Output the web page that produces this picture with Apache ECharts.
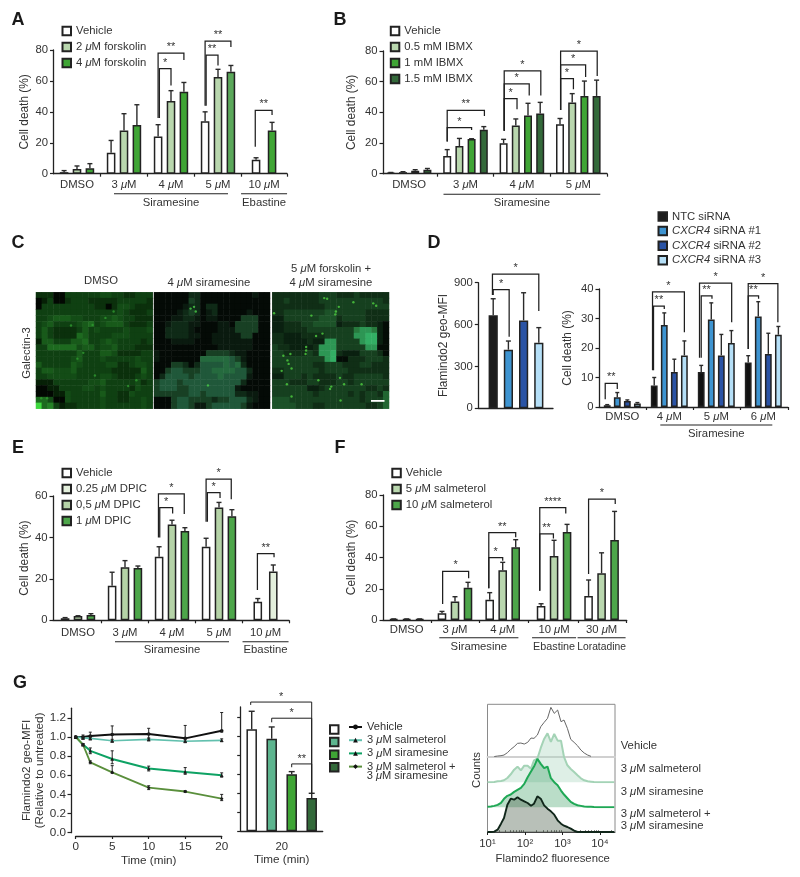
<!DOCTYPE html>
<html><head><meta charset="utf-8">
<style>html,body{margin:0;padding:0;background:#fff}#c{width:800px;height:877px}</style>
<script src="https://cdn.jsdelivr.net/npm/echarts@6/dist/echarts.min.js"></script>
</head><body><div id="c"></div>
<script>
// ---------- DATA ----------
const A_groups=['DMSO','3 μM','4 μM','5 μM','10 μM'];
const A_vehicle=[1,13.5,24,34,9], A_vehicleErr=[2,21.5,31.7,40,10.3];
const A_forsk2=[3,28,47,62.5,null], A_forsk2Err=[5,38.8,53.7,67.5,null];
const A_forsk4=[3.5,31.5,53,66,28], A_forsk4Err=[6.5,44.6,59,70,33.2];
const A_brackets=[[2,0.1,1,68,36,57,'*'],[2,0,2,78,36,73.5,'**'],[3,0.08,1,76.7,44,70,'**'],[3,0,2,85.8,44,82,'**'],[4,-0.1,2,41,17.5,38,'**']];

const B_groups=['DMSO','3 μM','4 μM','5 μM'];
const B_vehicle=[0.5,11.5,19.8,32.2], B_vehicleErr=[0.8,15.7,22.4,36];
const B_ibmx05=[1,18,31.5,46.5], B_ibmx05Err=[1.3,23,35.7,52.2];
const B_ibmx1=[2,22.6,38,50.7], B_ibmx1Err=[2.6,22.8,45.9,60.4];
const B_ibmx15=[2.5,28.7,39.3,50.7], B_ibmx15Err=[3.4,30.7,46.5,61];
const B_brackets=[[1,0,2,30,21,28.5,'*'],[1,0,3.05,41.3,21,37.6,'**'],[2,0.05,1.1,49,28,42,'*'],[2,0.05,2.1,58.5,28,51,'*'],[2,0.05,3.05,67,28,51,'*'],[3,0.05,1.1,62,41.5,55,'*'],[3,0.05,2.1,71,41.5,63,'*'],[3,0.05,3.05,80,41.5,63.7,'*']];

const DL_mfi=[666,420,630,470], DL_mfiErr=[785,482,828,578];
const DL_brackets=[[0,0,1.05,850,811,513,'*'],[0,-0.05,3,962,811,697,'*']];
const D_groups=['DMSO','4 μM','5 μM','6 μM'];
const D_ntc=[0.6,7.3,11.9,15.1], D_ntcErr=[0.8,10,14.1,17.4];
const D_si1=[3.3,27.8,29.7,30.7], D_si1Err=[4.9,31.9,35.3,35.7];
const D_si2=[2,11.9,17.5,18], D_si2Err=[2.4,16.2,24.6,25];
const D_si3=[1.2,17.5,21.7,24.5], D_si3Err=[1.5,22.4,25.9,27.3];
const D_brackets=[[0,-0.2,1,8,2.6,6.1,'**'],[1,-0.07,1,34.2,12.5,33.2,'**'],[1,-0.17,3,39,12.5,25.3,'*'],[2,0,1.07,37.7,16.7,36.7,'**'],[2,-0.17,3.03,42,16.7,28.7,'*'],[3,0,1.03,37.7,19.7,36.7,'**'],[3,0,2.95,41.8,19.7,28.7,'*']];

const E_groups=['DMSO','3 μM','4 μM','5 μM','10 μM'];
const E_vehicle=[1,16.7,30.7,35.5,9], E_vehicleErr=[1.3,23.2,35.5,39.6,10.5];
const E_dpic025=[null,null,null,null,23.6], E_dpic025Err=[null,null,null,null,26.7];
const E_dpic05=[2.1,25.6,46.2,54.4,null], E_dpic05Err=[2.2,28.8,48.3,56.9,null];
const E_dpic1=[2.6,25.3,43.1,50.2,null], E_dpic1Err=[3.2,26.2,44.7,53.4,null];
const E_brackets=[[2,0.05,1.05,54.4,40,51.6,'*'],[2,-0.05,1.95,61,40,51.3,'*'],[3,0.1,1.08,61.6,47.6,59,'*'],[3,0,1.95,68.2,47.6,58.4,'*'],[4,-0.05,2.1,32.2,14.6,30.4,'**']];

const F_groups=['DMSO','3 μM','4 μM','10 μM','30 μM'];
const F_vehicle=[0.5,4.3,13,9,15.4], F_vehicleErr=[0.7,5.5,17.5,10.4,25.6];
const F_salm5=[0.5,11.9,31.8,40.9,29.9], F_salm5Err=[0.7,14.9,36.9,51,43];
const F_salm10=[0.5,20.7,46.5,56.3,51.2], F_salm10Err=[0.7,24.1,51.4,61.2,69.5];
const F_brackets=[[1,0.05,2.05,31.1,10.2,26.7,'*'],[2,-0.07,1,39.9,20.3,38,'*'],[2,-0.07,2,56,20.3,52.9,'**'],[3,-0.1,0.95,55.2,18.8,52.2,'**'],[3,-0.1,1.9,71.9,18.8,68.2,'****'],[4,0,2.05,77.4,29.4,74.2,'*']];

const G_time=[0,1,2,5,10,15,20];
const G_vehicle=[1,1,1.01,1.026,1.03,0.985,1.065];
const G_vehicleHi=[1.01,1.02,1.05,1.115,1.09,1.12,1.255], G_vehicleLo=[0.99,0.98,0.97,0.95,0.98,0.95,1.05];
const G_salm=[1,0.99,0.985,0.96,0.975,0.955,0.965];
const G_salmHi=[1,1,0.995,0.975,0.99,0.97,0.98], G_salmLo=[1,0.98,0.975,0.945,0.96,0.94,0.95];
const G_sira=[1,0.92,0.855,0.77,0.67,0.635,0.6];
const G_siraHi=[1,0.93,0.885,0.855,0.695,0.68,0.625], G_siraLo=[1,0.91,0.825,0.72,0.645,0.61,0.58];
const G_combo=[1,0.92,0.735,0.63,0.47,0.43,0.355];
const G_comboHi=[1,0.93,0.75,0.7,0.49,0.44,0.4], G_comboLo=[1,0.91,0.72,0.62,0.45,0.42,0.335];
const GB_values=[1.074,0.975,0.6,0.35], GB_errs=[1.263,1.098,0.628,0.4];
const GB_brackets=[[0,-0.05,3,1.36,1.33,0.4,'*'],[0,1,3,1.19,1.147,0.4,'*'],[0,2,3,0.709,0.674,0.4,'**']];

const H_bins=[1.00,1.09,1.18,1.27,1.36,1.44,1.53,1.62,1.71,1.80,1.89,1.98,2.07,2.16,2.24,2.33,2.42,2.51,2.60,2.69,2.78,2.87,2.96,3.04,3.13,3.22,3.31,3.40,3.49,3.58,3.67,3.76,3.84,3.93,4.02,4.11,4.20,4.29,4.38];
const H_vehicle=[null,null,0.5,2,3,5,12,22,30,40,41,38,43,56,55,65,90,103,115,148,130,140,105,110,85,52,43,33,20,11,5,1,null,null,null,null,null,null,null];
const H_salm=[0,0.5,1,3,4,6,13,24,38,47,36,50,50,41,66,71,103,130,147,121,145,125,125,76,51,40,31,21,12,6,3,2,1,0.5,0,0,0,0,0];
const H_sira=[1,2,4,7,13,25,34,38,46,52,58,70,90,107,122,145,130,117,122,87,75,66,50,38,27,16,10,6,4,2,1.5,1,0.5,0,0,0,0,0,0];
const H_combo=[0,0,1,7,25,42,82,100,97,104,97,92,87,79,85,107,100,80,70,62,52,35,25,19,15,10,4,0,0,0,0,0,0,0,0,0,0,0,0];

// Galectin-3 micrographs, brightness 0-9 estimated per coarse cell
const C_dmso=["22200333333443322333","01300233322222333332","03333333332202443222","33333333333333432223","33455544333445433222","34533334563455532223","35322223534333343334","35322226533334443333","15533355633454333323","33666664553445333222","33333335333554222233","33333345333433333433","53333354333344223443","35544453333332222253","33444443333443222343","11133333344533333423","00113333443433332433","00011433333533224333","66400433333433223343","96731223333433333343"];
const C_sira=["00000022000000000100","00000032000000000000","00000122022000000000","00001232012000001000","00011221011000033300","00122211000110333300","00222210000111333300","00222211001111133000","00011110001111111000","00000000000111111000","10000000033332110000","10000000555554310000","00033202444454520000","00344333445555442000","02444434444544441000","34443444444444420000","34443344444444100000","33333344344444221100","00034433332334442100","00034431134444431000"];
const C_combo=["22222222333222322222","22322222333333333332","22222222233333333333","22333333344333332222","11333333444233332222","11222334444122232210","11222233333333677610","22111222233333778810","22111121177333378810","32211112777333337700","33222232778211133320","33333333378002223332","33333332233322233222","22333333233332222222","11333232222322333332","33322233222332333333","33333311233333332232","33333332333332323325","44433333333333323335","44443332233333332235"];
const C_dmsoSpecks=[[0.9,18.2],[1.9,18.2],[7.1,11.4],[9.7,5.6],[6,5.7],[11.9,4.4],[15.8,16.1],[17.2,15.1],[10.1,14.3],[8.1,10.4],[13.3,3.3]];
const C_siraSpecks=[[6.3,2.8],[7.2,3.3],[6.9,2.5],[9.3,16]];
const C_comboSpecks=[[8.9,1],[9.4,1.1],[11.4,2.5],[10.9,3.3],[10.8,3.8],[13.9,1.7],[17.3,1.9],[17.8,2.3],[0.3,3.6],[6.7,4],[8.6,7.1],[7.5,7.5],[5.8,9.4],[5.8,10],[5.7,10.6],[3.1,10.6],[1.9,10.9],[2.6,11.7],[2.8,12.3],[3.3,13.1],[1.6,13.5],[10.1,16.2],[9.9,16.6],[12.3,15.8],[15.3,15.8],[7.9,15.1],[2.5,15.8],[3.3,17.9],[11.7,18.6],[11.6,14.7]];

// ---------- STYLE ----------
const FONT='Liberation Sans', INK='#333333', SZ=11.3;
const EDGE='#222222';
const WHITE='#ffffff',LG='#b9d7ae',G1='#3fa535',DG='#33693a';

const grids=[],xAxes=[],yAxes=[],series=[],legends=[],graphics=[],visualMaps=[];
const rich={i:{fontStyle:'italic',fontFamily:FONT,fontSize:SZ,color:INK}};
const fmt=s=>s.replace('μ','{i|μ}').replace('CXCR4','{i|CXCR4}');
const axLine={lineStyle:{color:'#222',width:1.3}};

function txt(x,y,text,o){o=o||{};
  graphics.push({type:'text',x,y,rotation:o.rot||0,silent:true,style:{text:fmt(text),align:o.align||'center',verticalAlign:'middle',textAlign:o.align||'center',textVerticalAlign:'middle',
    fontFamily:FONT,fontSize:o.size||SZ,fontWeight:o.weight||'normal',fill:o.fill||INK,rich:{i:{fontStyle:'italic',fontFamily:FONT,fontSize:o.size||SZ,color:INK}}}});
}

// ---------- MICROGRAPHS ----------
function micrograph(rows,specks,left,width,palette,speckColor){
  const g=grids.length; const top=292.3,h=116.4;
  grids.push({left,top,width,height:h});
  const cats=rows.map((_,i)=>i);
  const xc=xAxes.length; xAxes.push({gridIndex:g,type:'category',data:cats,show:false});
  const yc=yAxes.length; yAxes.push({gridIndex:g,type:'category',data:cats,show:false,inverse:true});
  const xv=xAxes.length; xAxes.push({gridIndex:g,type:'value',min:0,max:20,show:false});
  const yv=yAxes.length; yAxes.push({gridIndex:g,type:'value',min:0,max:20,show:false,inverse:true});
  const data=[]; rows.forEach((r,y)=>{[...r].forEach((c,x)=>data.push([x,y,+c]));});
  visualMaps.push({type:'continuous',show:false,seriesIndex:series.length,min:0,max:9,dimension:2,inRange:{color:palette}});
  series.push({type:'heatmap',name:'Galectin-3 field',xAxisIndex:xc,yAxisIndex:yc,data,progressive:0,itemStyle:{borderWidth:0},silent:true});
  series.push({type:'scatter',name:'Galectin-3 puncta',xAxisIndex:xv,yAxisIndex:yv,data:specks,symbolSize:2.4,itemStyle:{color:speckColor},silent:true,z:3});
}
micrograph(C_dmso,C_dmsoSpecks,36,116.7,['#020802','#062006','#0b300c','#0f4012','#134c16','#185a1a','#1d6a1f','#248226','#2ca62c','#3fd83f'],'#2f9a2f');
micrograph(C_sira,C_siraSpecks,154,116,['#040a06','#0a1a0f','#0f2a17','#184024','#20583a','#256a3e','#2a7c48','#309050','#38a05a','#40c068'],'#49d049');
micrograph(C_combo,C_comboSpecks,272.3,116.7,['#040c06','#0a2010','#102e16','#16401f','#1c5228','#226632','#287a3e','#2d9654','#33ae64','#3cc070'],'#4fd040');

// ---------- BAR PANELS ----------
function barPanel(c){
  const g=grids.length, n=c.slots;
  grids.push({left:c.left,top:c.top,width:c.right-c.left,height:c.bottom-c.top});
  const toX=(gi,s)=>c.groupPos[gi]+(s-(n-1)/2)*c.pitch*(c.spread?c.spread[gi]:1)/c.step;
  const xMin=(c.left-c.x0)/c.step,xMax=(c.right-c.x0)/c.step;
  const ticks=c.noTicks?[]:c.groupPos.slice(1).map((p,i)=>(p+c.groupPos[i])/2).concat([xMax]);
  const xi=xAxes.length;
  xAxes.push({gridIndex:g,type:'value',min:xMin,max:xMax,splitLine:{show:false},axisLine:Object.assign({onZero:false},axLine),
    axisTick:{show:!c.noTicks,length:3,inside:false,lineStyle:{color:'#222',width:1.2},customValues:ticks},
    axisLabel:{show:!!c.groups,customValues:c.groupPos,margin:c.labelMargin||6,fontFamily:FONT,fontSize:SZ,color:INK,rich,hideOverlap:false,showMinLabel:true,showMaxLabel:true,
      formatter:v=>{let b=0,d=1e9;c.groupPos.forEach((p,i)=>{if(Math.abs(p-v)<d){d=Math.abs(p-v);b=i;}});return c.groups?fmt(c.groups[b]):'';}},
    name:c.xName||'',nameLocation:'middle',nameGap:c.xNameGap||22,nameTextStyle:{fontFamily:FONT,fontSize:SZ+0.4,color:INK}});
  const yi=yAxes.length;
  yAxes.push({gridIndex:g,type:'value',min:0,max:c.yMax,interval:c.yStep,splitLine:{show:false},axisLine:Object.assign({show:true,onZero:false},axLine),
    axisTick:{show:true,length:3.5,lineStyle:{color:'#222',width:1.2},customValues:c.yTicks},
    axisLabel:{show:!c.noYLabels,margin:5.5,fontFamily:FONT,fontSize:SZ,color:INK,hideOverlap:false,customValues:c.yTicks},
    name:c.yName||'',nameLocation:'middle',nameGap:c.yNameGap||25,nameTextStyle:{fontFamily:FONT,fontSize:11.9,color:INK}});
  const errData=[];
  c.series.forEach(s=>{
    const data=[];
    s.vals.forEach((v,i)=>{ if(v==null) return;
      const slot=s.slots?s.slots[i]:s.slot;
      const x=toX(i,slot);
      const col=(s.colors&&s.colors[i])||s.color;
      data.push({value:[x,v],itemStyle:{color:col}});
      errData.push([x,v,s.errs[i]]);
    });
    series.push({type:'bar',name:s.name,xAxisIndex:xi,yAxisIndex:yi,barWidth:c.barWidth,barGap:'-100%',data,silent:true,animation:false,
      itemStyle:{color:s.color,borderColor:EDGE,borderWidth:1.5}});
  });
  series.push({type:'custom',name:'error bars',xAxisIndex:xi,yAxisIndex:yi,silent:true,z:4,data:errData,encode:{x:0,y:[1,2]},
    renderItem:(p,api)=>{const a=api.coord([api.value(0),api.value(1)]),b=api.coord([api.value(0),api.value(2)]);
      const st={stroke:'#2a2a2a',lineWidth:1.4,fill:null};const cap=c.cap||2.5;
      return {type:'group',children:[{type:'line',shape:{x1:a[0],y1:a[1],x2:b[0],y2:b[1]},style:st},{type:'line',shape:{x1:b[0]-cap,y1:b[1],x2:b[0]+cap,y2:b[1]},style:st}]};}});
  const bd=c.brackets.map(b=>[toX(b[0],b[1]),toX(b[0],b[2]),b[3],b[4],b[5]]);
  series.push({type:'custom',name:'significance',xAxisIndex:xi,yAxisIndex:yi,silent:true,z:5,clip:false,data:bd,encode:{x:[0,1],y:[2,3,4]},
    renderItem:(p,api)=>{const xa=api.value(0),xb=api.value(1),t=api.value(2),la=api.value(3),lb=api.value(4);
      const A=api.coord([xa,la]),B=api.coord([xa,t]),C=api.coord([xb,t]),D=api.coord([xb,lb]);
      return {type:'group',children:[
        {type:'polyline',shape:{points:[A,B,C,D]},style:{stroke:'#1f1f1f',lineWidth:c.brW||1.25,fill:null}},
        {type:'text',x:(B[0]+C[0])/2,y:B[1]-(c.starUp||6),style:{text:c.brackets[p.dataIndex][6],align:'center',verticalAlign:'middle',textAlign:'center',textVerticalAlign:'middle',fontFamily:FONT,fontSize:11,fill:INK}}]};}});
  if(c.spans){
    series.push({type:'custom',name:'group spans',xAxisIndex:xi,yAxisIndex:yi,silent:true,clip:false,data:c.spans.map(s=>[c.groupPos[s.from],c.groupPos[s.to]]),encode:{x:[0,1]},
      renderItem:(p,api)=>{const s=c.spans[p.dataIndex];const a=api.coord([api.value(0),0]),b=api.coord([api.value(1),0]);
        return {type:'group',children:[
          {type:'line',shape:{x1:a[0]-s.hw,y1:a[1]+c.spanY,x2:b[0]+s.hw,y2:a[1]+c.spanY},style:{stroke:'#222',lineWidth:1.1}},
          {type:'text',x:(a[0]+b[0])/2+(s.dx||0),y:a[1]+c.spanTextY,style:{text:s.label,align:'center',verticalAlign:'middle',textAlign:'center',textVerticalAlign:'middle',fontFamily:FONT,fontSize:s.size||SZ,fill:INK}}]};}});
  }
}

const t80=[0,20,40,60,80];
barPanel({left:53.5,right:287,top:50,bottom:173.7,yMax:80,yStep:20,yTicks:t80,yName:'Cell death (%)',yNameGap:23,x0:77,step:47,groupPos:[0,1,2,3,3.98],spread:[1,1,1,1,0.62],pitch:12.9,slots:3,barWidth:8.6,groups:A_groups,labelMargin:6,
  series:[{name:'Vehicle',vals:A_vehicle,errs:A_vehicleErr,slot:0,color:WHITE},{name:'2 μM forskolin',vals:A_forsk2,errs:A_forsk2Err,slot:1,color:LG},{name:'4 μM forskolin',vals:A_forsk4,errs:A_forsk4Err,slot:2,color:G1,colors:[null,null,null,'#5ba85a',null]}],
  brackets:A_brackets,spans:[{from:1,to:3,hw:10,label:'Siramesine'},{from:4,to:4,hw:23,label:'Ebastine'}],spanY:20,spanTextY:29});
barPanel({left:383,right:607,top:51,bottom:173.7,yMax:80,yStep:20,yTicks:t80,yName:'Cell death (%)',yNameGap:25,x0:409.1,step:56.4,groupPos:[0,1,2,3],pitch:12.2,slots:4,barWidth:8,groups:B_groups,labelMargin:6,
  series:[{name:'Vehicle',vals:B_vehicle,errs:B_vehicleErr,slot:0,color:WHITE},{name:'0.5 mM IBMX',vals:B_ibmx05,errs:B_ibmx05Err,slot:1,color:LG},{name:'1 mM IBMX',vals:B_ibmx1,errs:B_ibmx1Err,slot:2,color:G1},{name:'1.5 mM IBMX',vals:B_ibmx15,errs:B_ibmx15Err,slot:3,color:DG}],
  brackets:B_brackets,spans:[{from:1,to:3,hw:22,label:'Siramesine'}],spanY:20.5,spanTextY:29});
barPanel({left:478.3,right:553,top:282.7,bottom:408.3,yMax:900,yStep:300,yTicks:[0,300,600,900],yName:'Flamindo2 geo-MFI',yNameGap:27,x0:516,step:60,groupPos:[0],pitch:15.2,slots:4,barWidth:9.2,noTicks:true,
  series:[{name:'NTC siRNA',vals:[DL_mfi[0]],errs:[DL_mfiErr[0]],slot:0,color:'#1c1c1c'},{name:'CXCR4 siRNA #1',vals:[DL_mfi[1]],errs:[DL_mfiErr[1]],slot:1,color:'#3e94d1'},{name:'CXCR4 siRNA #2',vals:[DL_mfi[2]],errs:[DL_mfiErr[2]],slot:2,color:'#2a53a5'},{name:'CXCR4 siRNA #3',vals:[DL_mfi[3]],errs:[DL_mfiErr[3]],slot:3,color:'#b5dff7'}],
  brackets:DL_brackets});
barPanel({left:599,right:788,top:289,bottom:407,yMax:40,yStep:10,yTicks:[0,10,20,30,40],yName:'Cell death (%)',yNameGap:25,x0:622.3,step:47,groupPos:[0,1,2,3],pitch:10.05,slots:4,barWidth:6.8,groups:D_groups,labelMargin:4,cap:2,
  series:[{name:'NTC siRNA',vals:D_ntc,errs:D_ntcErr,slot:0,color:'#111111'},{name:'CXCR4 siRNA #1',vals:D_si1,errs:D_si1Err,slot:1,color:'#3e94d1'},{name:'CXCR4 siRNA #2',vals:D_si2,errs:D_si2Err,slot:2,color:'#2a53a5'},{name:'CXCR4 siRNA #3',vals:D_si3,errs:D_si3Err,slot:3,color:'#b5dff7'}],
  brackets:D_brackets,spans:[{from:1,to:3,hw:9,label:'Siramesine'}],spanY:18,spanTextY:27});
barPanel({left:53,right:289,top:496,bottom:620.3,yMax:60,yStep:20,yTicks:[0,20,40,60],yName:'Cell death (%)',yNameGap:20,x0:78,step:47,groupPos:[0,1,2,3,3.99],spread:[1,1,1,1,0.6],pitch:12.9,slots:3,barWidth:8.6,groups:E_groups,labelMargin:7,
  series:[{name:'Vehicle',vals:E_vehicle,errs:E_vehicleErr,slot:0,color:WHITE},{name:'0.25 μM DPIC',vals:E_dpic025,errs:E_dpic025Err,slot:2,color:'#e3efdc'},{name:'0,5 μM DPIC',vals:E_dpic05,errs:E_dpic05Err,slot:1,color:'#b5d3a7'},{name:'1 μM DPIC',vals:E_dpic1,errs:E_dpic1Err,slot:2,color:'#4da64a'}],
  brackets:E_brackets,spans:[{from:1,to:3,hw:10,label:'Siramesine'},{from:4,to:4,hw:23,label:'Ebastine'}],spanY:21.4,spanTextY:29.7});
barPanel({left:383,right:626.7,top:495,bottom:620,yMax:80,yStep:20,yTicks:t80,yName:'Cell death (%)',yNameGap:25,x0:406.7,step:48,groupPos:[0,1.006,2,3.07,4.06],pitch:13,slots:3,barWidth:8.6,groups:F_groups,labelMargin:4,
  series:[{name:'Vehicle',vals:F_vehicle,errs:F_vehicleErr,slot:0,color:WHITE},{name:'5 μM salmeterol',vals:F_salm5,errs:F_salm5Err,slot:1,color:LG},{name:'10 μM salmeterol',vals:F_salm10,errs:F_salm10Err,slot:2,color:'#4da64a'}],
  brackets:F_brackets,spans:[{from:1,to:2,hw:15.7,label:'Siramesine'},{from:3,to:3,hw:22,label:'Ebastine',size:10.8},{from:4,to:4,hw:24,label:'Loratadine',size:10.3}],spanY:17.7,spanTextY:26.7});
barPanel({left:240.7,right:322.7,top:707,bottom:831.3,yMax:1.308,yStep:0.2,yTicks:[0,0.2,0.4,0.6,0.8,1,1.2],noYLabels:true,x0:281.7,step:60,groupPos:[0],pitch:20,slots:4,barWidth:10.5,groups:['20'],labelMargin:10.5,xName:'Time (min)',xNameGap:21.5,noTicks:true,brW:1,cap:3,starUp:5,
  series:[{name:'Bar Vehicle',vals:[GB_values[0]],errs:[GB_errs[0]],slot:0,color:WHITE},{name:'Bar salmeterol',vals:[GB_values[1]],errs:[GB_errs[1]],slot:1,color:'#5db58f'},{name:'Bar siramesine',vals:[GB_values[2]],errs:[GB_errs[2]],slot:2,color:G1},{name:'Bar combination',vals:[GB_values[3]],errs:[GB_errs[3]],slot:3,color:DG}],
  brackets:GB_brackets});

// ---------- TIME COURSE ----------
(function(){
  const g=grids.length; grids.push({left:75.7,width:146,top:708.2,height:124.5});
  const xi=xAxes.length, yi=yAxes.length;
  xAxes.push({gridIndex:g,type:'value',min:0,max:20,interval:5,offset:3.3,splitLine:{show:false},axisLine:Object.assign({onZero:false},axLine),axisTick:{length:3,lineStyle:{color:'#222',width:1.2}},
    axisLabel:{margin:4.5,fontFamily:FONT,fontSize:SZ+0.4,color:INK},name:'Time (min)',nameLocation:'middle',nameGap:18.5,nameTextStyle:{fontFamily:FONT,fontSize:SZ+0.4,color:INK}});
  const yt=[0,0.2,0.4,0.6,0.8,1,1.2];
  yAxes.push({gridIndex:g,type:'value',min:0,max:1.3,offset:4.7,splitLine:{show:false},axisLine:Object.assign({show:true,onZero:false},axLine),axisTick:{length:3.5,lineStyle:{color:'#222',width:1.2},customValues:yt},
    axisLabel:{margin:5,fontFamily:FONT,fontSize:SZ+0.4,color:INK,customValues:yt,formatter:v=>v.toFixed(1)},
    name:'Flamindo2 geo-MFI\n(Relative to untreated)',nameLocation:'middle',nameGap:24,nameTextStyle:{fontFamily:FONT,fontSize:SZ+0.4,lineHeight:12.5,color:INK}});
  const lines=[
   {name:'Vehicle\u00a0',v:G_vehicle,hi:G_vehicleHi,lo:G_vehicleLo,c:'#111111',w:2,sym:'circle'},
   {name:'3 μM salmeterol',v:G_salm,hi:G_salmHi,lo:G_salmLo,c:'#62c0ae',w:1.7,sym:'triangle'},
   {name:'3 μM siramesine',v:G_sira,hi:G_siraHi,lo:G_siraLo,c:'#0ea264',w:2,sym:'triangle'},
   {name:'3 μM salmeterol + 3 μM siramesine',v:G_combo,hi:G_comboHi,lo:G_comboLo,c:'#5a8f3c',w:1.8,sym:'diamond'}];
  const errs=[];
  lines.forEach(l=>{
    series.push({type:'line',name:l.name,xAxisIndex:xi,yAxisIndex:yi,data:G_time.map((t,i)=>[t,l.v[i]]),symbol:l.sym,symbolSize:3.6,showSymbol:true,silent:true,
      lineStyle:{color:l.c,width:l.w},itemStyle:{color:'#111'},z:3});
    G_time.forEach((t,i)=>errs.push([t,l.lo[i],l.hi[i]]));
  });
  series.push({type:'custom',name:'time course error bars',xAxisIndex:xi,yAxisIndex:yi,silent:true,z:4,data:errs,encode:{x:0,y:[1,2]},
    renderItem:(p,api)=>{const a=api.coord([api.value(0),api.value(1)]),b=api.coord([api.value(0),api.value(2)]);const st={stroke:'#222',lineWidth:1,fill:null};
      return {type:'group',children:[{type:'line',shape:{x1:a[0],y1:a[1],x2:b[0],y2:b[1]},style:st},{type:'line',shape:{x1:a[0]-1.5,y1:a[1],x2:a[0]+1.5,y2:a[1]},style:st},{type:'line',shape:{x1:b[0]-1.5,y1:b[1],x2:b[0]+1.5,y2:b[1]},style:st}]};}});
})();

// ---------- FLOW HISTOGRAMS ----------
function hist(vals,baseline,lineC,lineW,fill,name,axisLineColor){
  const g=grids.length; grids.push({left:487.5,width:127.5,top:baseline-128,height:128});
  const xi=xAxes.length,yi=yAxes.length;
  xAxes.push({gridIndex:g,type:'value',min:1,max:4.4,show:!!axisLineColor,splitLine:{show:false},axisLabel:{show:false},axisTick:{show:false},axisLine:{show:!!axisLineColor,onZero:false,lineStyle:{color:axisLineColor||'#ccc',width:2}}});
  yAxes.push({gridIndex:g,type:'value',min:0,max:384,show:false});
  series.push({type:'line',name,xAxisIndex:xi,yAxisIndex:yi,data:H_bins.map((b,i)=>[b,vals[i]]),symbol:'none',silent:true,connectNulls:false,
    lineStyle:{color:lineC,width:lineW},areaStyle:fill?{color:fill}:null,z:2});
}
hist(H_vehicle,756.7,'#666666',1,null,'Hist vehicle','#d0d0d0');
hist(H_salm,782.3,'#a4d3b6',2,'rgba(170,214,190,0.55)','Hist salmeterol');
hist(H_sira,807.2,'#1fa855',2,'rgba(60,160,100,0.5)','Hist siramesine');
hist(H_combo,832,'#10261a',1.9,'rgba(70,90,70,0.55)','Hist combination');
(function(){
  const g=grids.length; grids.push({left:487.5,width:127.5,top:704.3,height:127.7,show:true,borderColor:'#8a8a8a',borderWidth:1,backgroundColor:'transparent'});
  const majors=[1,2,3,4], minors=[];
  [1,2,3,4].forEach(k=>[2,3,4,5,6,7,8,9].forEach(m=>{const v=k+Math.log10(m); if(v<4.4) minors.push(v);}));
  const xi=xAxes.length;
  xAxes.push({gridIndex:g,type:'value',min:1,max:4.4,splitLine:{show:false},axisLine:{onZero:false,lineStyle:{color:'#444',width:1}},
    axisTick:{length:3,lineStyle:{color:'#222',width:1},customValues:majors},
    axisLabel:{margin:6,fontFamily:FONT,fontSize:SZ,color:INK,customValues:majors,formatter:v=>'10'+['¹','²','³','⁴'][Math.round(v)-1]}});
  xAxes.push({gridIndex:g,type:'value',min:1,max:4.4,splitLine:{show:false},axisLine:{show:false},axisLabel:{show:false},axisTick:{length:1.8,lineStyle:{color:'#444',width:0.8},customValues:minors}});
  yAxes.push({gridIndex:g,type:'value',min:0,max:1,show:false});
  series.push({type:'line',name:'hist frame',xAxisIndex:xi,yAxisIndex:yAxes.length-1,data:[],silent:true});
  series.push({type:'line',name:'hist frame ticks',xAxisIndex:xi+1,yAxisIndex:yAxes.length-1,data:[],silent:true});
})();

// ---------- LEGENDS ----------
function legend(left,top,names,gap,size,o){o=o||{};
  legends.push(Object.assign({left,top,orient:'vertical',padding:0,itemGap:gap,itemWidth:size,itemHeight:size,icon:'rect',selectedMode:false,data:names,
    textStyle:{fontFamily:FONT,fontSize:SZ,color:INK,lineHeight:13,rich},formatter:n=>fmt(n)},o));
}
legend(61.5,24.5,['Vehicle','2 μM forskolin','4 μM forskolin'],3,8.5,{itemGap:3});
legend(389.8,24.5,['Vehicle','0.5 mM IBMX','1 mM IBMX','1.5 mM IBMX'],3,8.5);
legend(657.5,210,['NTC siRNA','CXCR4 siRNA #1','CXCR4 siRNA #2','CXCR4 siRNA #3'],1.6,8.5);
legend(61.5,466.5,['Vehicle','0.25 μM DPIC','0,5 μM DPIC','1 μM DPIC'],3,8.5);
legend(391.3,466.5,['Vehicle','5 μM salmeterol','10 μM salmeterol'],3,8.5);
legend(329,723,['Bar Vehicle','Bar salmeterol','Bar siramesine','Bar combination'],-0.4,8.5,{formatter:()=>' '});
legends.push({left:348,top:720.5,orient:'vertical',padding:0,itemGap:0.2,itemWidth:13,itemHeight:6,selectedMode:false,data:['Vehicle\u00a0','3 μM salmeterol','3 μM siramesine','3 μM salmeterol + 3 μM siramesine'],
  textStyle:{fontFamily:FONT,fontSize:SZ-0.2,color:INK,lineHeight:13,rich},formatter:n=>fmt(n.replace(' + 3 μM siramesine',' +'))});

// ---------- FREE TEXT ----------
[['A',18,20],['B',340,20],['C',18,243],['D',434,243],['E',18,448],['F',340,448],['G',20,683]].forEach(l=>txt(l[1],l[2],l[0],{size:18,weight:'bold',fill:'#1a1a1a'}));
txt(101,280.7,'DMSO');txt(209,282.7,'4 μM siramesine');txt(331,269,'5 μM forskolin +');txt(331,282.7,'4 μM siramesine');
txt(26.7,353,'Galectin-3',{rot:Math.PI/2});
graphics.push({type:'rect',shape:{x:371,y:400,width:13.5,height:1.8},style:{fill:'#ffffff'},silent:true,z:10});
txt(366.7,775.5,'3 μM siramesine',{align:'left',size:SZ-0.2});
txt(620.7,746,'Vehicle',{align:'left'});txt(620.7,769,'3 μM salmeterol',{align:'left'});txt(620.7,791.7,'3 μM siramesine',{align:'left'});txt(620.7,814,'3 μM salmeterol +',{align:'left'});txt(620.7,825.7,'3 μM siramesine',{align:'left'});
txt(552.7,859,'Flamindo2 fluoresence');txt(476.7,770,'Counts',{rot:Math.PI/2});

const chart=echarts.init(document.getElementById('c'),null,{renderer:'canvas'});
chart.setOption({animation:false,backgroundColor:'#fff',grid:grids,xAxis:xAxes,yAxis:yAxes,series,legend:legends,visualMap:visualMaps,graphic:{elements:graphics}});
</script></body></html>
